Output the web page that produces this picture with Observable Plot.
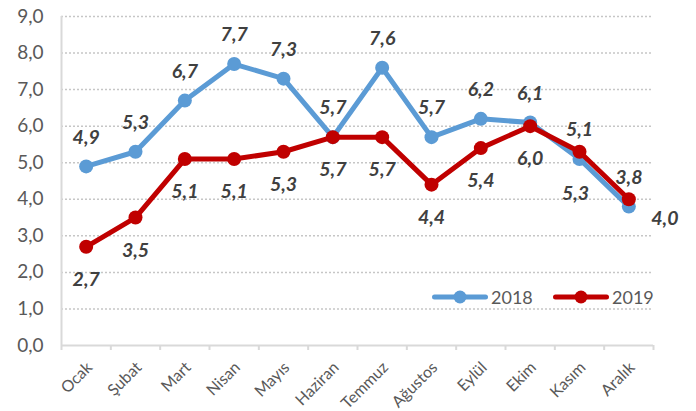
<!DOCTYPE html>
<html>
<head>
<meta charset="utf-8">
<script src="https://cdn.jsdelivr.net/npm/d3@7"></script>
<script src="https://cdn.jsdelivr.net/npm/@observablehq/plot@0.6"></script>
<style>
  html, body { margin: 0; padding: 0; background: #fff; }
  #wrap { position: relative; width: 696px; height: 411px; font-family: Lato, sans-serif; }
  .leg { position: absolute; display: flex; align-items: center; font-size: 18px; color: #595959; font-family: Lato, sans-serif; }
  .leg span { margin-left: 3px; }
</style>
</head>
<body>
<div id="wrap"></div>
<script>
const months = ["Ocak","Şubat","Mart","Nisan","Mayıs","Haziran","Temmuz","Ağustos","Eylül","Ekim","Kasım","Aralık"];
const series = ["2018", "2019"];
const values2018 = [4.9, 5.3, 6.7, 7.7, 7.3, 5.7, 7.6, 5.7, 6.2, 6.1, 5.1, 3.8];
const values2019 = [2.7, 3.5, 5.1, 5.1, 5.3, 5.7, 5.7, 4.4, 5.4, 6.0, 5.3, 4.0];
const yTicks = [0, 1, 2, 3, 4, 5, 6, 7, 8, 9];
const colors = ["#5B9BD5", "#C00000"];

const fmt = v => v.toFixed(1).replace(".", ",");
const d2018 = values2018.map((v, i) => ({i, v}));
const d2019 = values2019.map((v, i) => ({i, v}));
const boundaries = d3.range(months.length + 1).map(k => k - 0.5);

const labelStyle = {fontWeight: "bold", fontStyle: "italic", fontSize: 19.5, fill: "#404040", fontFamily: "Lato"};
const axisGray = "#d9d9d9";

const chart = Plot.plot({
  width: 696, height: 411,
  marginLeft: 61, marginRight: 43, marginTop: 16, marginBottom: 66,
  x: {type: "linear", domain: [-0.5, months.length - 0.5]},
  y: {domain: [0, 9]},
  style: {fontFamily: "Lato", background: "white", overflow: "visible"},
  marks: [
    Plot.gridY(yTicks.slice(1), {stroke: "#c6c6c6", strokeOpacity: 1, strokeDasharray: "2,2", strokeWidth: 1.5}),
    Plot.ruleY([0], {stroke: axisGray, strokeWidth: 2}),
    Plot.ruleX([boundaries[0]], {stroke: axisGray, strokeWidth: 2}),
    Plot.axisY(yTicks, {tickSize: 0, tickPadding: 18, tickFormat: fmt, fontSize: 19, fill: "#595959", label: null}),
    Plot.axisX(boundaries, {tickSize: 5, tickFormat: () => "", stroke: axisGray, strokeWidth: 2, label: null}),
    Plot.text(months, {x: (d, i) => i, frameAnchor: "bottom", dx: 7, dy: 23, rotate: -45, textAnchor: "end", fontSize: 16, fill: "#595959"}),
    Plot.line(d2018, {x: "i", y: "v", stroke: colors[0], strokeWidth: 5, strokeLinejoin: "round"}),
    Plot.dot(d2018, {x: "i", y: "v", fill: colors[0], r: 7}),
    Plot.line(d2019, {x: "i", y: "v", stroke: colors[1], strokeWidth: 5, strokeLinejoin: "round"}),
    Plot.dot(d2019, {x: "i", y: "v", fill: colors[1], r: 7}),
    Plot.text(d2018, {x: "i", y: "v", text: d => fmt(d.v), dy: -29, ...labelStyle}),
    Plot.text(d2019.slice(0, 10), {x: "i", y: "v", text: d => fmt(d.v), dy: 33, ...labelStyle}),
    Plot.text(d2019.slice(10, 11), {x: "i", y: "v", text: d => fmt(d.v), dx: -4, dy: 42, ...labelStyle}),
    Plot.text(d2019.slice(11, 12), {x: "i", y: "v", text: d => fmt(d.v), dx: 36, dy: 19, ...labelStyle})
  ]
});

const wrap = document.getElementById("wrap");
wrap.appendChild(chart);

const legLefts = [432, 553];
series.forEach((name, k) => {
  const div = document.createElement("div");
  div.className = "leg";
  div.style.left = legLefts[k] + "px";
  div.style.top = "285px";
  div.innerHTML = `<svg width="56" height="24"><line x1="2.5" x2="53.5" y1="12" y2="12" stroke="${colors[k]}" stroke-width="5" stroke-linecap="round"/><circle cx="28" cy="12" r="6.5" fill="${colors[k]}"/></svg><span>${name}</span>`;
  wrap.appendChild(div);
});
</script>
</body>
</html>
